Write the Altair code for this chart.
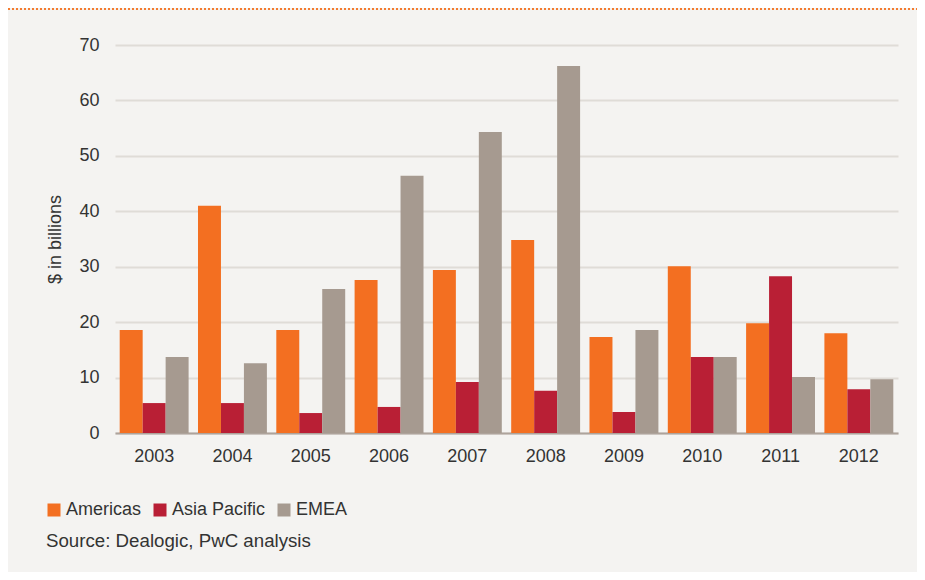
import altair as alt
import pandas as pd

years = ["2003", "2004", "2005", "2006", "2007", "2008", "2009", "2010", "2011", "2012"]
series = ["Americas", "Asia Pacific", "EMEA"]
americas = [18.6, 41.0, 18.6, 27.6, 29.4, 34.8, 17.3, 30.1, 19.8, 18.0]
asia_pacific = [5.4, 5.4, 3.6, 4.7, 9.2, 7.6, 3.8, 13.7, 28.3, 7.9]
emea = [13.7, 12.6, 26.0, 46.4, 54.3, 66.2, 18.6, 13.7, 10.1, 9.7]
colors = ["#f36f21", "#b91f35", "#a69a90"]
y_ticks = [0, 10, 20, 30, 40, 50, 60, 70]
source_text = ["Source: Dealogic, PwC analysis"]

rows = []
for i, y in enumerate(years):
    for s, vals in zip(series, [americas, asia_pacific, emea]):
        rows.append({"year": y, "region": s, "value": vals[i]})
df = pd.DataFrame(rows)

FONT = "Liberation Sans"
W, H = 783, 388

bars = alt.Chart(df).mark_bar().encode(
    x=alt.X("year:N", sort=years,
            scale=alt.Scale(paddingInner=0.12, paddingOuter=0.06),
            axis=alt.Axis(title=None, labelAngle=0, ticks=False, labelPadding=14,
                          labelFontSize=18, labelColor="#333333", labelFont=FONT,
                          domainColor="#ada39b", domainWidth=2, grid=False)),
    xOffset=alt.XOffset("region:N", sort=series, scale=alt.Scale(paddingInner=0, paddingOuter=0)),
    y=alt.Y("value:Q", scale=alt.Scale(domain=[0, 70], nice=False),
            axis=alt.Axis(title="$ in billions", values=y_ticks, ticks=False, domain=False,
                          labelPadding=16, labelFontSize=18, labelColor="#333333", labelFont=FONT,
                          titleFontSize=18, titleFont=FONT, titleColor="#333333",
                          titleFontWeight="normal", titlePadding=14,
                          gridColor="#dfdcd7", gridWidth=2)),
    color=alt.Color("region:N", sort=series,
                    scale=alt.Scale(domain=series, range=colors),
                    legend=alt.Legend(title=None, orient="none", legendX=-70, legendY=456,
                                      direction="horizontal", symbolType="square",
                                      symbolSize=169, symbolStrokeWidth=0,
                                      labelFontSize=18, labelFont=FONT, labelColor="#333333",
                                      columnPadding=9, labelOffset=3)),
)

src = alt.Chart(pd.DataFrame({"t": source_text})).mark_text(
    align="left", baseline="middle", fontSize=18.7, font=FONT, color="#333333"
).encode(x=alt.value(-69), y=alt.value(496), text="t:N")

dots = alt.Chart(pd.DataFrame({"a": [0]})).mark_rule(
    color="#f47c30", strokeWidth=2, strokeDash=[2, 2]
).encode(x=alt.value(-107), x2=alt.value(W + 19), y=alt.value(-36))

chart = alt.layer(bars, src, dots).properties(
    width=W, height=H,
    autosize=alt.AutoSizeParams(type="none"),
    padding={"left": 107, "top": 37, "right": 19, "bottom": 139},
    background="#f4f3f1",
).configure_view(stroke=None)

chart.save("out.html", embed_options={"renderer": "svg", "actions": False})
